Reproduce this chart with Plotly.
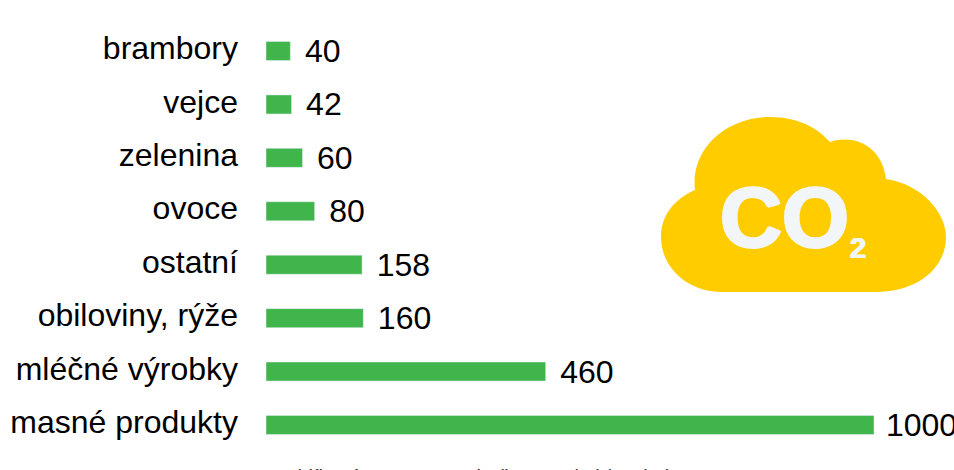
"""CO2 by food group: horizontal bars with a cloud badge."""

import plotly.graph_objects as go

CATEGORIES = [
    "masné produkty",
    "mléčné výrobky",
    "obiloviny, rýže",
    "ostatní",
    "ovoce",
    "zelenina",
    "vejce",
    "brambory",
]
VALUES = [1000, 460, 160, 158, 80, 60, 42, 40]
AXIS_TITLE = "Uhlíková stopa potravin (kg CO2/rok/osoba)"

GREEN = "#3fb54c"
YELLOW = "#ffcc00"
BADGE_TEXT = "#f2f6f9"
FONT = "Liberation Sans"

W, H = 954, 470


def px_x(v):
    return v / W


def px_y(v):
    return 1 - v / H


# cloud outline, in page pixels
CLOUD_PATH = (
    "M 695 190 C 690 150 725 117 770 117 C 798 117 818 128 830 142 "
    "C 858 133 883 150 886 179 C 921 184 946 212 946 237 "
    "C 946 268 918 292 875 292 L 722 292 C 688 292 661 268 661 237 "
    "C 661 216 674 199 695 190 Z"
)

# the badge lettering is heavier than the bold face, so thicken it a little
HEAVY = (
    f"1.5px 0 0 {BADGE_TEXT},-1.5px 0 0 {BADGE_TEXT},"
    f"0 1px 0 {BADGE_TEXT},0 -1px 0 {BADGE_TEXT}"
)
HEAVY_SMALL = f"0.7px 0 0 {BADGE_TEXT},-0.7px 0 0 {BADGE_TEXT}"


def to_paper(path):
    out, is_x = [], True
    for tok in path.split():
        if tok.isalpha():
            out.append(tok)
        else:
            v = float(tok)
            out.append(f"{px_x(v):.5f}" if is_x else f"{px_y(v):.5f}")
            is_x = not is_x
    return " ".join(out)


fig = go.Figure()
fig.add_trace(
    go.Bar(
        x=VALUES,
        y=CATEGORIES,
        orientation="h",
        width=0.356,
        marker=dict(color=GREEN),
        # the longest label gets less padding so it stays on the page
        text=[f"\u00a0{v}" if v >= 1000 else f"\u00a0\u200a{v}" for v in VALUES],
        textposition="outside",
        constraintext="none",
        cliponaxis=False,
        textfont=dict(family=FONT, size=32, color="black"),
        hoverinfo="skip",
    )
)

# axis title sits mostly below the page edge, as in the original crop
fig.add_annotation(
    x=px_x(478), y=px_y(477), xref="paper", yref="paper", showarrow=False,
    xanchor="center", yanchor="middle",
    text=AXIS_TITLE, font=dict(family=FONT, size=20, color="#333333"),
)

fig.add_annotation(
    x=px_x(784), y=px_y(217), xref="paper", yref="paper", showarrow=False,
    xanchor="center", yanchor="middle",
    text="<b>CO</b>", font=dict(family=FONT, size=86, color=BADGE_TEXT, shadow=HEAVY),
)
fig.add_annotation(
    x=px_x(858), y=px_y(248), xref="paper", yref="paper", showarrow=False,
    xanchor="center", yanchor="middle",
    text="<b>2</b>", font=dict(family=FONT, size=29, color=BADGE_TEXT, shadow=HEAVY_SMALL),
)

fig.update_layout(
    width=W,
    height=H,
    margin=dict(l=0, r=0, t=0, b=0),
    paper_bgcolor="white",
    plot_bgcolor="white",
    showlegend=False,
    xaxis=dict(
        domain=[px_x(266), px_x(874)],
        range=[0, 1000],
        visible=False,
    ),
    yaxis=dict(
        domain=[px_y(451.7), px_y(24.3)],
        tickfont=dict(family=FONT, size=32, color="black"),
        ticklabelstandoff=27,
        ticklabelshift=-3,
        showline=False,
        showgrid=False,
        ticks="",
    ),
    shapes=[
        dict(
            type="path",
            path=to_paper(CLOUD_PATH),
            xref="paper",
            yref="paper",
            fillcolor=YELLOW,
            line=dict(width=0),
            layer="below",
        )
    ],
)

# drop the default body margin so the figure fills the whole window
fig.write_html(
    "out.html",
    config=dict(displayModeBar=False),
    post_script="document.body.style.margin = '0';",
)
